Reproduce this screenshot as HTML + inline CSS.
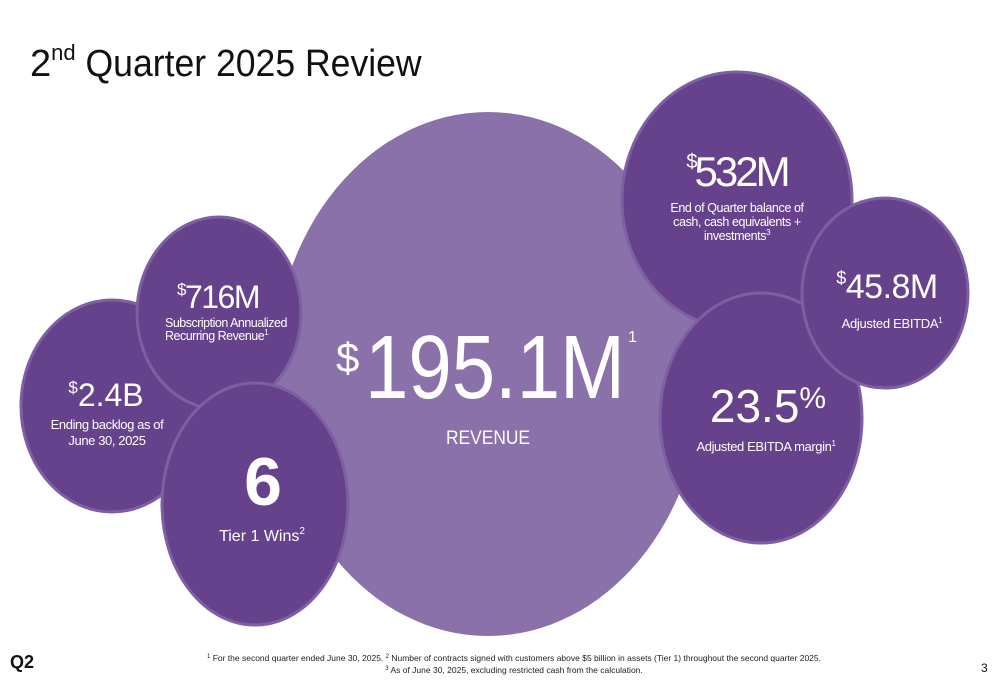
<!DOCTYPE html>
<html><head><meta charset="utf-8"><style>
html,body{margin:0;padding:0;background:#fff;}
body{width:1000px;height:685px;overflow:hidden;font-family:"Liberation Sans",sans-serif;}
svg text{font-family:"Liberation Sans",sans-serif;fill:#fff;}
</style></head><body>
<svg width="1000" height="685" viewBox="0 0 1000 685">
<text x="30" y="76" style="fill:#111;font-size:38px"><tspan>2</tspan><tspan dy="-16" font-size="22">nd</tspan><tspan dy="16" textLength="346" lengthAdjust="spacingAndGlyphs"> Quarter 2025 Review</tspan></text>

<ellipse cx="488" cy="374" rx="215" ry="262" fill="#8a71a9"/>
<g stroke="#7d60a3" stroke-width="3" fill="#66418c">
<ellipse cx="112" cy="406" rx="91" ry="106"/>
<ellipse cx="219" cy="313" rx="82" ry="96"/>
<ellipse cx="255" cy="504" rx="93" ry="121"/>
<ellipse cx="737" cy="200" rx="115" ry="128"/>
<ellipse cx="761" cy="418" rx="101" ry="125"/>
<ellipse cx="885" cy="293" rx="83" ry="95"/>
</g>

<text x="336" y="372" font-size="42">$</text>
<text x="365" y="398" font-size="90" textLength="260" lengthAdjust="spacingAndGlyphs">195.1M</text>
<text x="628" y="342" font-size="16">1</text>
<text x="488" y="444" text-anchor="middle" font-size="19" textLength="84" lengthAdjust="spacingAndGlyphs">REVENUE</text>

<text x="737" y="186" text-anchor="middle" font-size="42" letter-spacing="-3"><tspan font-size="20" dy="-18">$</tspan><tspan dy="18">532M</tspan></text>
<text x="737" y="212" text-anchor="middle" font-size="12.5" letter-spacing="-0.4">End of Quarter balance of</text>
<text x="737" y="226" text-anchor="middle" font-size="12.5" letter-spacing="-0.4">cash, cash equivalents +</text>
<text x="737" y="240" text-anchor="middle" font-size="12.5" letter-spacing="-0.4">investments<tspan font-size="8" dy="-5">3</tspan></text>

<text x="887" y="298" text-anchor="middle" font-size="34" letter-spacing="-0.5"><tspan font-size="18" dy="-14">$</tspan><tspan dy="14">45.8M</tspan></text>
<text x="892" y="328" text-anchor="middle" font-size="13" letter-spacing="-0.3">Adjusted EBITDA<tspan font-size="8" dy="-5">1</tspan></text>

<text x="768" y="422" text-anchor="middle" font-size="46">23.5<tspan font-size="30" dy="-14">%</tspan></text>
<text x="766" y="451" text-anchor="middle" font-size="13" letter-spacing="-0.4">Adjusted EBITDA margin<tspan font-size="8" dy="-5">1</tspan></text>

<text x="218" y="308" text-anchor="middle" font-size="32" letter-spacing="-1.5"><tspan font-size="17" dy="-13">$</tspan><tspan dy="13">716M</tspan></text>
<text x="165" y="327" font-size="12.5" letter-spacing="-0.5">Subscription Annualized</text>
<text x="165" y="340" font-size="12.5" letter-spacing="-0.5">Recurring Revenue<tspan font-size="8" dy="-5">1</tspan></text>

<text x="106" y="406" text-anchor="middle" font-size="32"><tspan font-size="17" dy="-13">$</tspan><tspan dy="13">2.4B</tspan></text>
<text x="107" y="429" text-anchor="middle" font-size="13" letter-spacing="-0.4">Ending backlog as of</text>
<text x="107" y="445" text-anchor="middle" font-size="13" letter-spacing="-0.4">June 30, 2025</text>

<text x="263" y="505" text-anchor="middle" font-size="68" font-weight="bold">6</text>
<text x="262" y="541" text-anchor="middle" font-size="16">Tier 1 Wins<tspan font-size="10" dy="-7">2</tspan></text>

<text x="10" y="668" style="fill:#111;font-size:18px;font-weight:bold">Q2</text>
<text x="514" y="661" text-anchor="middle" style="fill:#222;font-size:8.5px"><tspan font-size="6" dy="-3">1</tspan><tspan dy="3"> For the second quarter ended June 30, 2025. </tspan><tspan font-size="6" dy="-3">2</tspan><tspan dy="3"> Number of contracts signed with customers above $5 billion in assets (Tier 1) throughout the second quarter 2025.</tspan></text>
<text x="514" y="673" text-anchor="middle" style="fill:#222;font-size:8.5px"><tspan font-size="6" dy="-3">3</tspan><tspan dy="3"> As of June 30, 2025, excluding restricted cash from the calculation.</tspan></text>
<text x="981" y="672" style="fill:#111;font-size:12px">3</text>
</svg>
</body></html>
